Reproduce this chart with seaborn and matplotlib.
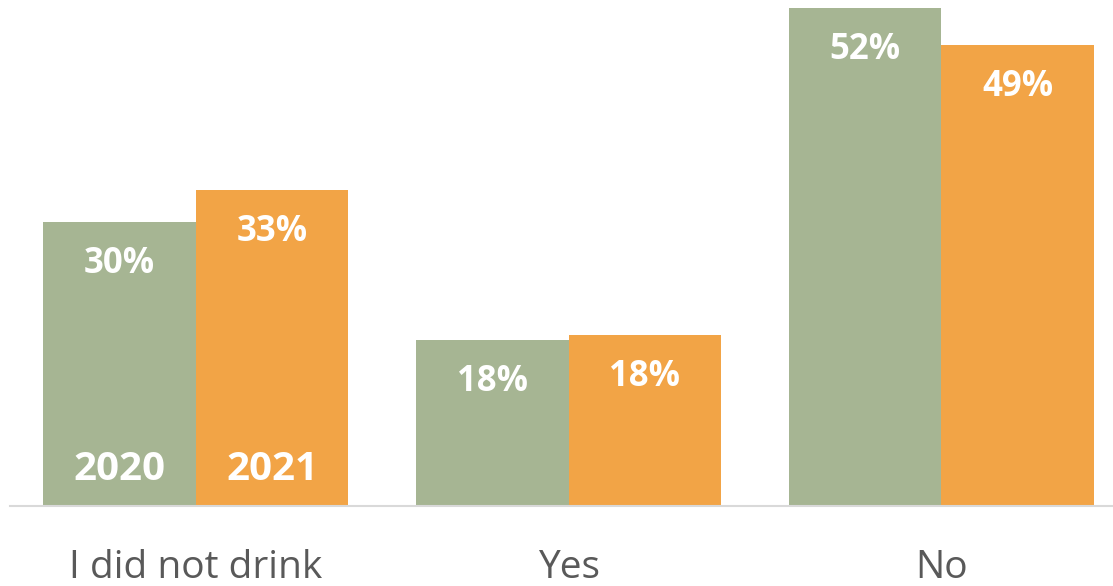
import matplotlib
matplotlib.use("Agg")
import matplotlib.pyplot as plt
import seaborn as sns
import pandas as pd

categories = ["I did not drink", "Yes", "No"]
years = ["2020", "2021"]
values_2020 = [29.6, 17.3, 52.0]
values_2021 = [33.0, 17.8, 48.1]
labels_2020 = ["30%", "18%", "52%"]
labels_2021 = ["33%", "18%", "49%"]
colors = ["#A6B593", "#F2A446"]

df = pd.DataFrame({
    "category": categories * 2,
    "year": [years[0]] * 3 + [years[1]] * 3,
    "value": values_2020 + values_2021,
})

sns.set_theme(style="white")
plt.rcParams["font.family"] = ["Open Sans", "DejaVu Sans"]

W, H = 1113, 586
fig = plt.figure(figsize=(W / 100, H / 100), dpi=100)
base_px = 505.5
ax = fig.add_axes([10 / W, (H - base_px) / H, (W - 10) / W, base_px / H])

sns.barplot(data=df, x="category", y="value", hue="year", order=categories,
            hue_order=years, palette=colors, width=0.818, linewidth=0,
            saturation=1, legend=False, ax=ax)

ax.set_xlim(-0.498, 2.46)
ax.set_ylim(0, base_px / 9.573)
ax.set_xlabel("")
ax.set_ylabel("")
ax.set_yticks([])
ax.set_xticks([])
for s in ["top", "left", "right"]:
    ax.spines[s].set_visible(False)
ax.spines["bottom"].set_color("#D9D9D9")
ax.spines["bottom"].set_linewidth(1.5)

all_labels = [labels_2020, labels_2021]
for cont, labs in zip(ax.containers, all_labels):
    for bar, lab in zip(cont, labs):
        cx = bar.get_x() + bar.get_width() / 2
        ax.annotate(lab, xy=(cx, bar.get_height()), xytext=(0, -42 * 0.72),
                    textcoords="offset points", ha="center", va="center",
                    color="white", fontsize=25, fontweight="bold")

# year labels inside first group bars
for cont, yr in zip(ax.containers, years):
    bar = cont[0]
    cx = bar.get_x() + bar.get_width() / 2
    ax.annotate(yr, xy=(cx, 0), xytext=(0, 36 * 0.72), textcoords="offset points",
                ha="center", va="center", color="white", fontsize=29, fontweight="bold")

# category labels
for i, cat in enumerate(categories):
    ax.annotate(cat, xy=(i, 0), xytext=(0, -62 * 0.72), textcoords="offset points",
                ha="center", va="center", color="#595959", fontsize=28,
                annotation_clip=False)

fig.savefig("out.png", dpi=100)
